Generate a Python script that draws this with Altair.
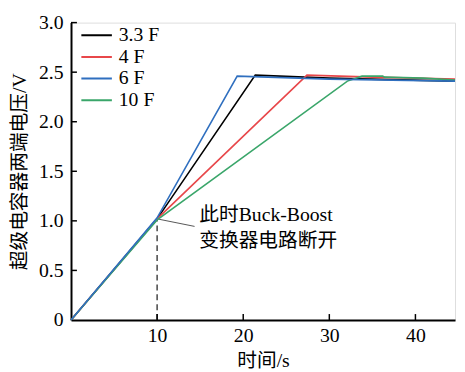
import altair as alt
import pandas as pd

# ---- data ----
series = ["3.3 F", "4 F", "6 F", "10 F"]
colors = ["#000000", "#e8474a", "#2f6fbf", "#3aa66a"]

t_33 = [0, 10, 21.4, 30, 44.6]
v_33 = [0, 1.02, 2.47, 2.44, 2.41]
t_4 = [0, 10, 27.4, 35, 44.6]
v_4 = [0, 1.02, 2.47, 2.45, 2.43]
t_6 = [0, 10, 19.3, 30, 44.6]
v_6 = [0, 1.03, 2.46, 2.43, 2.41]
t_10 = [0, 10, 32.1, 33.8, 36.2, 36.4, 40.9, 44.6]
v_10 = [0, 1.01, 2.41, 2.46, 2.46, 2.45, 2.44, 2.42]

x_ticks = [10, 20, 30, 40]
y_ticks = [0.5, 1.0, 1.5, 2.0, 2.5, 3.0]

switch_t = [10]
switch_v = [1.02]
leader_t = [10, 14.35]
leader_v = [1.02, 0.944]
note_t = [14.9]
note_v = [1.063]
note_text = ["此时Buck-Boost\n变换器电路断开"]

FONT = "Liberation Serif, Times New Roman, Noto Sans CJK SC"
FS = 20

rows = []
for name, ts, vs, order in [("3.3 F", t_33, v_33, 0), ("4 F", t_4, v_4, 1),
                            ("10 F", t_10, v_10, 2), ("6 F", t_6, v_6, 3)]:
    for i, (t, v) in enumerate(zip(ts, vs)):
        rows.append({"s": name, "t": t, "v": v, "i": i, "o": order})
df = pd.DataFrame(rows)

xs = alt.Scale(domain=[0, 44.6], nice=False, zero=False)
ys = alt.Scale(domain=[0, 3.0], nice=False)

x_axis = alt.Axis(values=x_ticks, title="时间/s", tickSize=0, labelPadding=6,
                  domainWidth=2, domainColor="black", grid=False,
                  labelFont=FONT, titleFont=FONT, labelFontSize=FS, titleFontSize=FS,
                  titleFontWeight="normal", labelColor="black", titleColor="black",
                  titlePadding=5)
y_axis = alt.Axis(values=[0] + y_ticks, title="超级电容器两端电压/V", tickSize=0,
                  labelPadding=8, domainWidth=2, domainColor="black", grid=False,
                  labelExpr="datum.value == 0 ? '0' : format(datum.value, '.1f')",
                  labelFont=FONT, titleFont=FONT, labelFontSize=FS, titleFontSize=FS,
                  titleFontWeight="normal", labelColor="black", titleColor="black",
                  titlePadding=9)

lines = alt.Chart(df).mark_line(strokeWidth=1.6).encode(
    x=alt.X("t:Q", scale=xs, axis=x_axis),
    y=alt.Y("v:Q", scale=ys, axis=y_axis),
    color=alt.Color("s:N", scale=alt.Scale(domain=series, range=colors),
                    legend=alt.Legend(title=None, orient="none", legendX=9.5, legendY=2,
                                      padding=0, symbolType="stroke", symbolSize=961,
                                      symbolStrokeWidth=2, labelFont=FONT,
                                      labelFontSize=FS, labelColor="black",
                                      clipHeight=21.7, rowPadding=0, labelOffset=6)),
    detail="o:N",
    order="i:Q",
)

ytick_df = pd.DataFrame({"v": y_ticks})
yticks = alt.Chart(ytick_df).mark_rule(color="black", strokeWidth=1.5).encode(
    y=alt.Y("v:Q", scale=ys), x=alt.value(0), x2=alt.value(6))
xtick_df = pd.DataFrame({"t": x_ticks})
xticks = alt.Chart(xtick_df).mark_rule(color="black", strokeWidth=1.5).encode(
    x=alt.X("t:Q", scale=xs), y=alt.value(302), y2=alt.value(296))

sw_df = pd.DataFrame({"t": switch_t, "v0": [0], "v1": switch_v})
dash = alt.Chart(sw_df).mark_rule(color="#444444", strokeWidth=1.5, strokeDash=[6, 4]).encode(
    x=alt.X("t:Q", scale=xs), y=alt.Y("v0:Q", scale=ys), y2="v1:Q")

ld_df = pd.DataFrame({"t": [leader_t[0]], "t2": [leader_t[1]],
                      "v": [leader_v[0]], "v2": [leader_v[1]]})
leader = alt.Chart(ld_df).mark_rule(color="#555555", strokeWidth=1).encode(
    x=alt.X("t:Q", scale=xs), x2="t2:Q", y=alt.Y("v:Q", scale=ys), y2="v2:Q")

nt_df = pd.DataFrame({"t": note_t, "v": note_v, "txt": note_text})
note = alt.Chart(nt_df).mark_text(align="left", baseline="middle", font=FONT,
                                  fontSize=FS, lineBreak="\n", lineHeight=27,
                                  color="black").encode(
    x=alt.X("t:Q", scale=xs), y=alt.Y("v:Q", scale=ys), text="txt:N")

chart = alt.layer(dash, leader, lines, note, yticks, xticks).properties(
    width=390, height=302,
    autosize=alt.AutoSizeParams(type="none"),
    padding={"left": 64, "top": 12, "right": 2, "bottom": 50},
).configure_view(stroke=None).configure(background="white")

chart.save("out.html", embed_options={"renderer": "svg", "actions": False})
